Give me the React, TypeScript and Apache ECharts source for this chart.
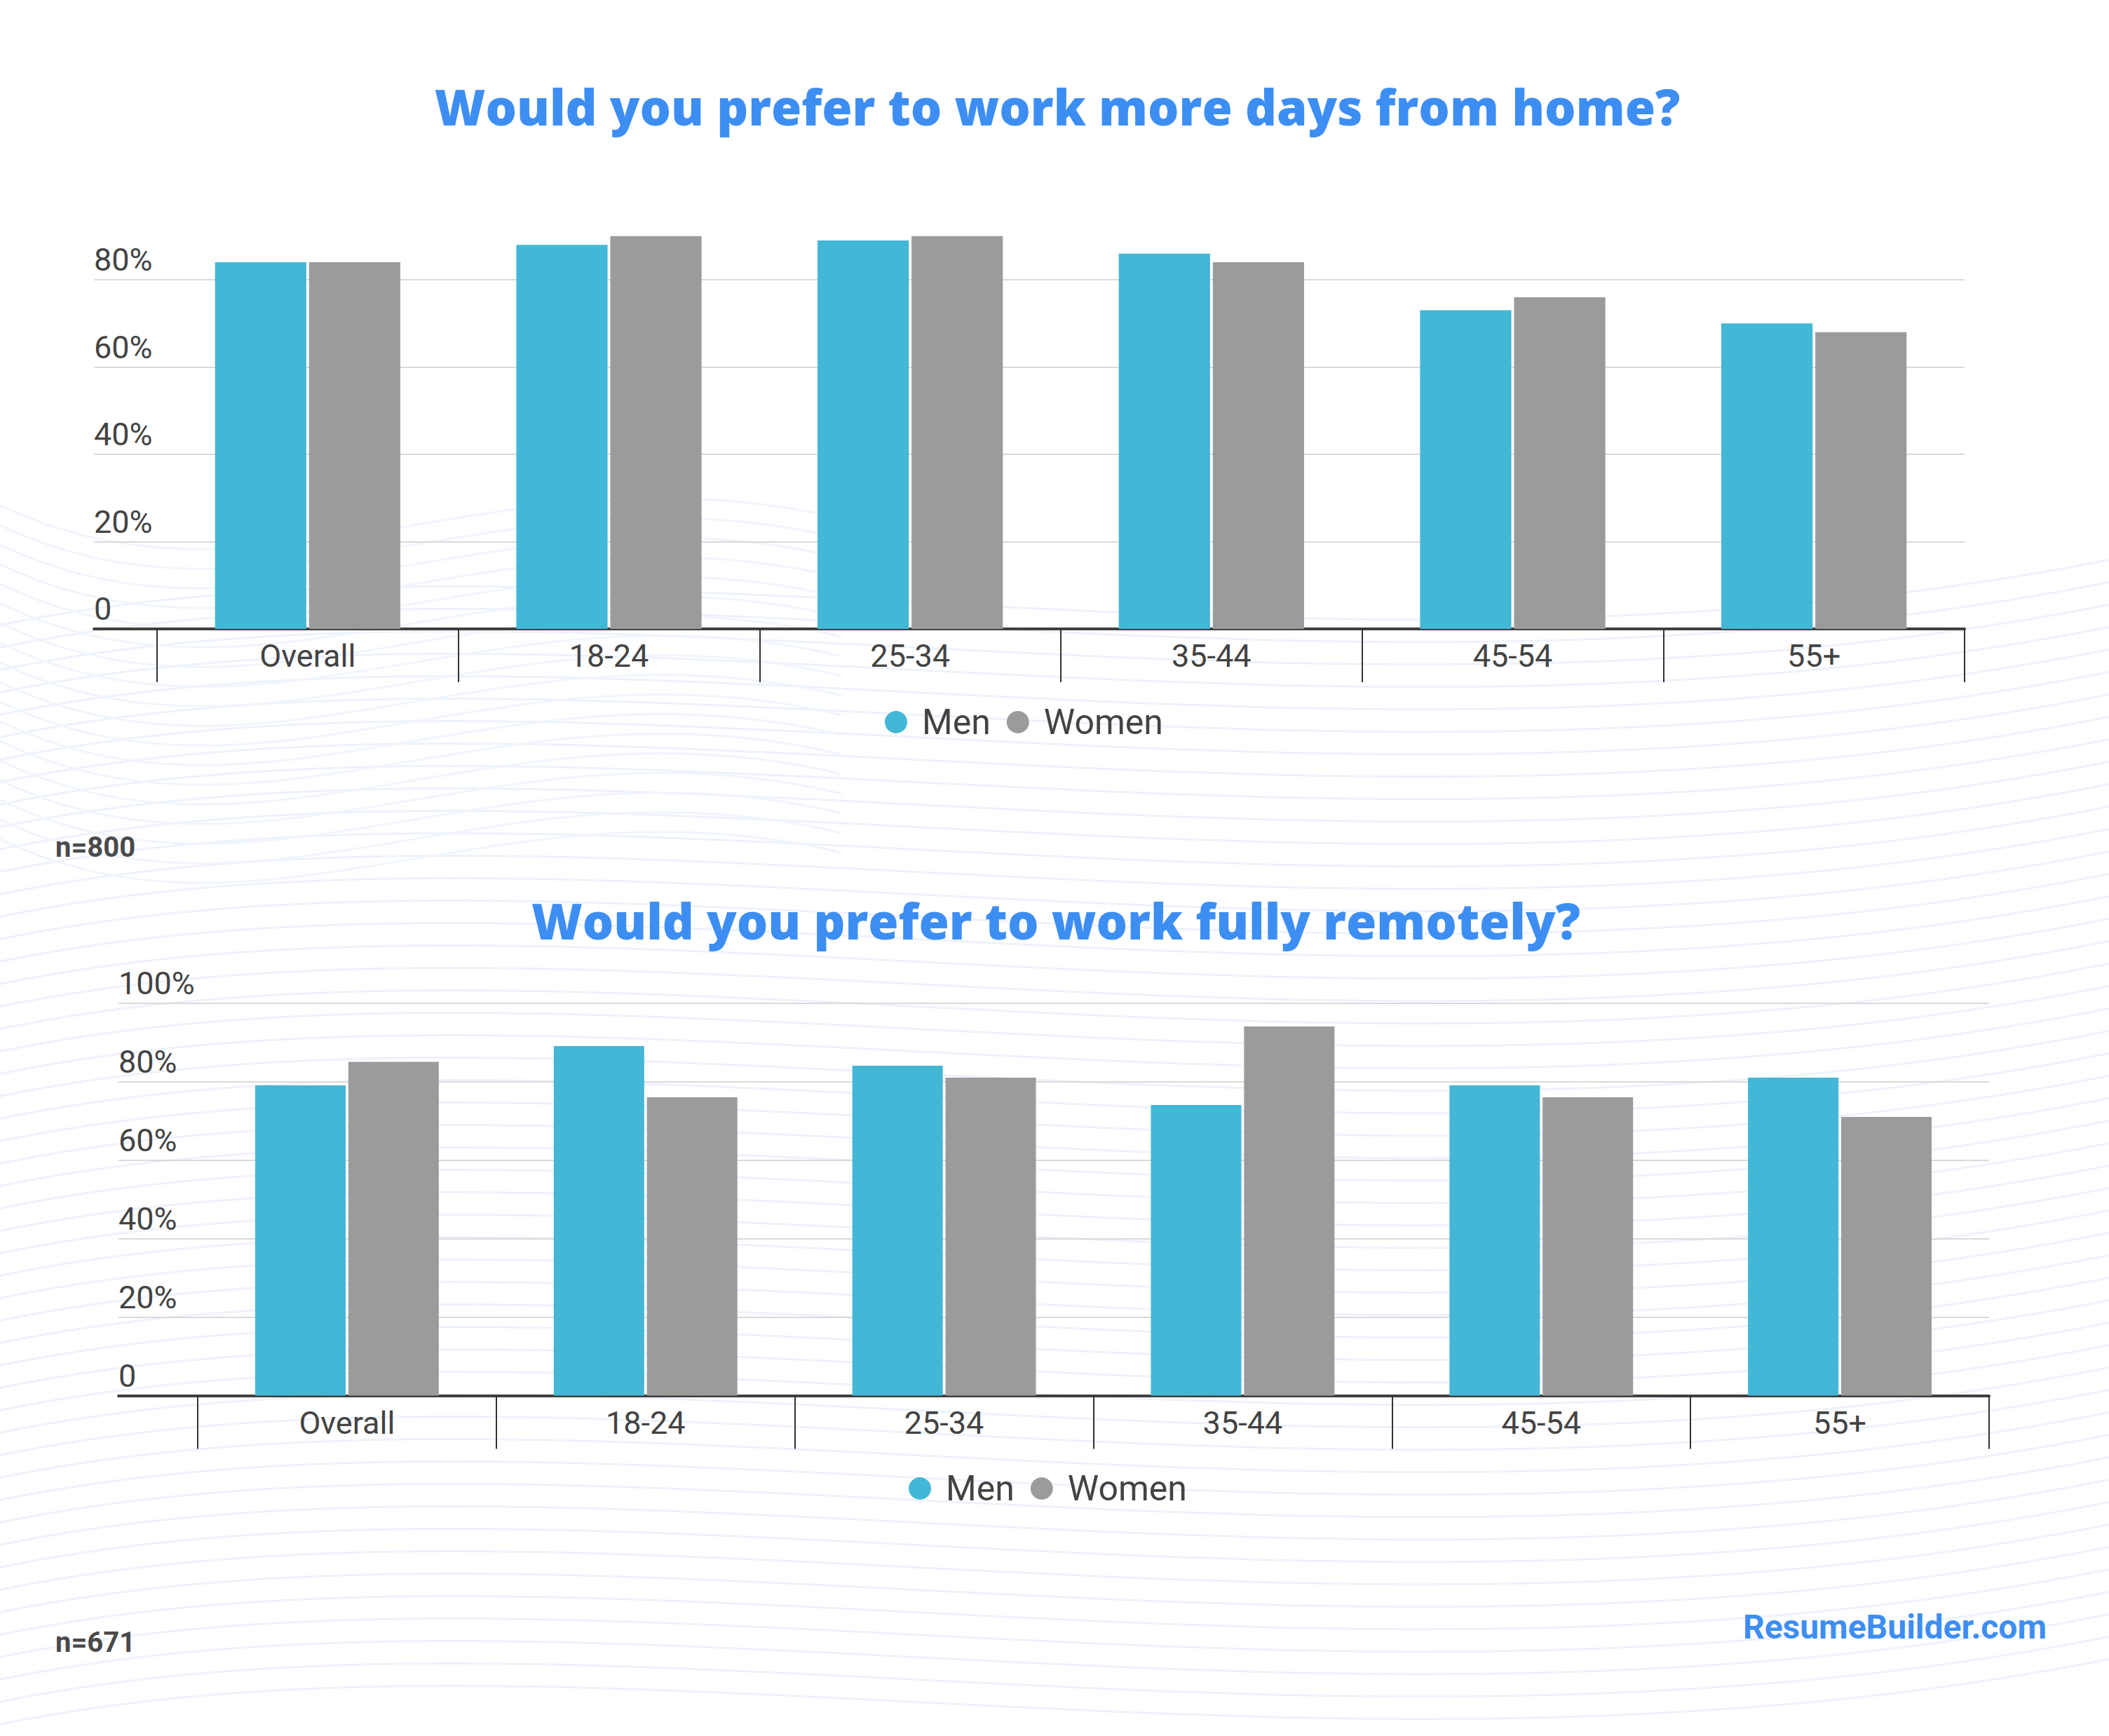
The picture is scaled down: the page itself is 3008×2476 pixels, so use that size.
import React, { useEffect, useRef } from "react";
import * as echarts from "echarts";

// Survey answers, in percent
const categories = ["Overall", "18-24", "25-34", "35-44", "45-54", "55+"];
const seriesNames = ["Men", "Women"];
const homeMen = [84, 88, 89, 86, 73, 70];
const homeWomen = [84, 90, 90, 84, 76, 68];
const remoteMen = [79, 89, 84, 74, 79, 81];
const remoteWomen = [85, 76, 81, 94, 76, 71];
const titles = [
  "Would you prefer to work more days from home?",
  "Would you prefer to work fully remotely?",
];
const sampleSizes = ["n=800", "n=671"];
const brand = "ResumeBuilder.com";

const W = 3008;
const H = 2476;
const MEN_COLOR = "#42b7d6";
const WOMEN_COLOR = "#9b9b9b";
const BLUE = "#3d8ef3";
const TEXT = "#434343";
const FONT = "Roboto, 'Noto Sans', sans-serif";
const TITLE_FONT = "'Open Sans', Roboto, sans-serif";

type Panel = {
  lineLeft: number;
  barLeft: number;
  right: number;
  top: number;
  bottom: number;
  max: number;
  men: number[];
  women: number[];
  legendLeft: number;
  legendCenter: number;
};

const panels: Panel[] = [
  { lineLeft: 134, barLeft: 224, right: W - 2802, top: 399, bottom: H - 897, max: 80, men: homeMen, women: homeWomen, legendLeft: 1262, legendCenter: 1035 },
  { lineLeft: 169, barLeft: 282, right: W - 2837, top: 1430.5, bottom: H - 1990.5, max: 100, men: remoteMen, women: remoteWomen, legendLeft: 1296, legendCenter: 2128 },
];

function buildBackground() {
  const els: any[] = [];
  // soft wavy line pattern in the backdrop
  for (let i = 0; i < 50; i++) {
    const y = 860 + i * 32;
    els.push({
      type: "bezierCurve",
      z: -100,
      silent: true,
      shape: { x1: -40, y1: y + 40, cpx1: 800, cpy1: y - 150, cpx2: 1900, cpy2: y + 170, x2: 3050, y2: y - 70 },
      style: { stroke: "#edf2fb", lineWidth: 3, fill: null },
    });
  }
  for (let i = 0; i < 18; i++) {
    const y = 700 + i * 28;
    els.push({
      type: "bezierCurve",
      z: -100,
      silent: true,
      shape: { x1: -40, y1: y, cpx1: 350, cpy1: y + 220, cpx2: 700, cpy2: y - 80, x2: 1200, y2: y + 40 },
      style: { stroke: "#f0f5fc", lineWidth: 3, fill: null },
    });
  }
  return els;
}

export default function App() {
  const ref = useRef<HTMLDivElement>(null);

  useEffect(() => {
    if (!ref.current) return;
    const chart = echarts.init(ref.current, undefined, { renderer: "svg", width: W, height: H });

    const grid: any[] = [];
    const xAxis: any[] = [];
    const yAxis: any[] = [];
    const series: any[] = [];
    const legend: any[] = [];

    panels.forEach((p, k) => {
      const gLines = k * 2;
      const gBars = k * 2 + 1;
      grid.push({ left: p.lineLeft, right: p.right, top: p.top, bottom: p.bottom, containLabel: false });
      grid.push({ left: p.barLeft, right: p.right, top: p.top, bottom: p.bottom, containLabel: false });

      // baseline + gridlines grid (wider, carries the y labels)
      xAxis.push({
        gridIndex: gLines,
        type: "category",
        data: [""],
        axisLine: { show: true, lineStyle: { color: "#3f3f3f", width: 4 } },
        axisTick: { show: false },
        axisLabel: { show: false },
      });
      yAxis.push({
        gridIndex: gLines,
        type: "value",
        min: 0,
        max: p.max,
        interval: 20,
        axisLine: { show: false },
        axisTick: { show: false },
        splitLine: { show: true, lineStyle: { color: "#dadada", width: 2 } },
        axisLabel: {
          inside: true,
          margin: 0,
          verticalAlign: "bottom",
          padding: [0, 0, 6, 0],
          fontSize: 45,
          color: TEXT,
          fontFamily: FONT,
          formatter: (v: number) => (v === 0 ? "0" : `${v}%`),
        },
      });

      // category grid carrying the bars
      xAxis.push({
        gridIndex: gBars,
        type: "category",
        data: categories,
        axisLine: { show: false },
        axisTick: { show: true, length: 76, lineStyle: { color: "#333", width: 2 } },
        axisLabel: { fontSize: 45, color: TEXT, fontFamily: FONT, margin: 16 },
      });
      yAxis.push({ gridIndex: gBars, type: "value", min: 0, max: p.max, interval: 20, show: false, splitLine: { show: false } });

      const xi = k * 2 + 1;
      series.push({
        name: seriesNames[0],
        type: "bar",
        xAxisIndex: xi,
        yAxisIndex: xi,
        data: p.men,
        clip: false,
        barGap: "3%",
        barCategoryGap: "38.5%",
        itemStyle: { color: MEN_COLOR },
      });
      series.push({
        name: seriesNames[1],
        type: "bar",
        xAxisIndex: xi,
        yAxisIndex: xi,
        data: p.women,
        clip: false,
        barGap: "3%",
        barCategoryGap: "38.5%",
        itemStyle: { color: WOMEN_COLOR },
      });

      legend.push({
        data: seriesNames,
        left: p.legendLeft,
        top: p.legendCenter - 30,
        padding: 0,
        icon: "circle",
        itemWidth: 32,
        itemHeight: 32,
        itemGap: 23,
        selectedMode: false,
        textStyle: { fontSize: 50, color: TEXT, fontFamily: FONT, padding: [0, 0, 0, 16] },
      });
    });

    const texts: any[] = [
      { type: "text", x: 1508, y: 152, style: { text: titles[0], fill: BLUE, font: `800 70px ${TITLE_FONT}`, textAlign: "center", textVerticalAlign: "middle" } },
      { type: "text", x: 1506, y: 1313, style: { text: titles[1], fill: BLUE, font: `800 70px ${TITLE_FONT}`, textAlign: "center", textVerticalAlign: "middle" } },
      { type: "text", x: 79, y: 1208, style: { text: sampleSizes[0], fill: "#4a4a4a", font: `bold 40px ${FONT}`, textAlign: "left", textVerticalAlign: "middle" } },
      { type: "text", x: 79, y: 2342, style: { text: sampleSizes[1], fill: "#4a4a4a", font: `bold 40px ${FONT}`, textAlign: "left", textVerticalAlign: "middle" } },
      { type: "text", x: 2919, y: 2320, style: { text: brand, fill: BLUE, font: `bold 48px ${FONT}`, textAlign: "right", textVerticalAlign: "middle" } },
    ];

    chart.setOption({
      animation: false,
      backgroundColor: "#ffffff",
      grid,
      xAxis,
      yAxis,
      series,
      legend,
      graphic: { elements: [...buildBackground(), ...texts] },
    });

    return () => chart.dispose();
  }, []);

  return <div ref={ref} style={{ position: "absolute", left: 0, top: 0, width: W, height: H }} />;
}
